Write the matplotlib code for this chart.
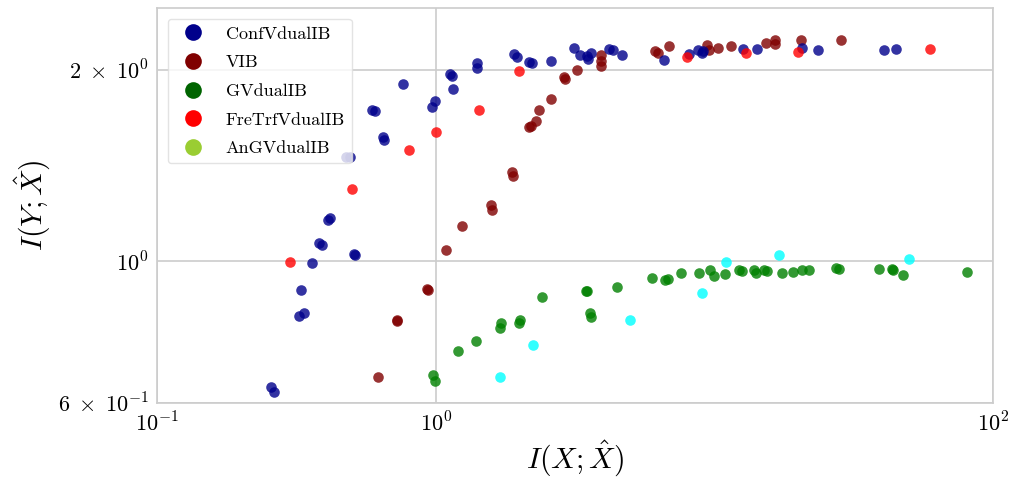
import matplotlib
matplotlib.use("Agg")
import matplotlib.pyplot as plt
from matplotlib.lines import Line2D
from matplotlib.ticker import NullFormatter, NullLocator

plt.rcParams['font.family'] = ['cmr10', 'DejaVu Serif']
plt.rcParams['mathtext.fontset'] = 'cm'
plt.rcParams['axes.formatter.use_mathtext'] = True
plt.rcParams['axes.unicode_minus'] = False

# ConfVdualIB
conf_x = [0.256, 0.263, 0.323, 0.337, 0.329, 0.360, 0.381, 0.390, 0.410, 0.418,
          0.476, 0.493, 0.509, 0.513, 0.589, 0.605, 0.649, 0.654, 0.765, 0.967,
          0.998, 1.126, 1.141, 1.157, 1.410, 1.403, 1.914, 1.963, 2.167, 2.222,
          2.586, 3.134, 3.294, 3.482, 3.599, 3.528, 4.198, 4.317, 4.674, 6.594,
          8.128, 8.755, 9.078, 9.003, 12.70, 14.18, 20.68, 23.60, 40.6, 44.7]
conf_y = [0.634, 0.623, 0.821, 0.830, 0.902, 0.995, 1.070, 1.061, 1.161, 1.168,
          1.459, 1.459, 1.026, 1.022, 1.731, 1.725, 1.569, 1.553, 1.901, 1.748,
          1.785, 1.971, 1.952, 1.866, 2.049, 2.012, 2.117, 2.094, 2.053, 2.046,
          2.064, 2.163, 2.111, 2.098, 2.125, 2.079, 2.158, 2.150, 2.106, 2.071,
          2.117, 2.150, 2.142, 2.125, 2.158, 2.158, 2.163, 2.150, 2.150, 2.158]

# VIB
vib_x = [0.619, 0.724, 0.729, 0.931, 0.942, 1.086, 1.248, 1.579, 1.592, 1.874,
         1.891, 2.162, 2.198, 2.300, 2.353, 2.593, 2.886, 2.911, 3.227, 3.918,
         3.918, 3.935, 6.146, 6.274, 6.873, 9.406, 9.603, 10.30, 11.52, 15.31,
         16.50, 16.50, 20.54, 28.58]
vib_y = [0.659, 0.809, 0.805, 0.906, 0.901, 1.044, 1.136, 1.228, 1.204, 1.381,
         1.364, 1.625, 1.634, 1.662, 1.731, 1.799, 1.947, 1.932, 2.000, 2.111,
         2.061, 2.024, 2.142, 2.127, 2.176, 2.185, 2.150, 2.166, 2.176, 2.202,
         2.223, 2.193, 2.223, 2.223]

# GVdualIB
gv_x = [0.980, 0.994, 1.205, 1.395, 1.701, 1.715, 1.995, 2.007, 2.400, 3.462,
        3.50, 3.577, 3.60, 4.473, 5.972, 6.649, 6.815, 7.570, 8.784, 9.643,
        9.97, 10.91, 12.29, 12.54, 13.91, 14.11, 15.07, 15.41, 17.53, 19.19,
        20.57, 21.90, 27.31, 28.07, 38.96, 43.27, 43.9, 47.62, 80.8]
gv_y = [0.663, 0.649, 0.723, 0.751, 0.785, 0.801, 0.801, 0.809, 0.879, 0.898,
        0.897, 0.829, 0.819, 0.913, 0.943, 0.934, 0.937, 0.958, 0.958, 0.971,
        0.948, 0.954, 0.968, 0.966, 0.969, 0.958, 0.969, 0.966, 0.958, 0.962,
        0.971, 0.969, 0.975, 0.974, 0.974, 0.974, 0.971, 0.951, 0.962]

# FreTrfVdualIB
fre_x = [0.300, 0.501, 0.802, 1.000, 1.434, 1.994, 7.95, 13.0, 20.0, 59.5]
fre_y = [0.999, 1.300, 1.498, 1.596, 1.731, 1.989, 2.094, 2.125, 2.135, 2.156]

# AnGVdualIB
an_x = [1.701, 2.228, 4.993, 9.003, 11.00, 17.01, 49.93]
an_y = [0.659, 0.740, 0.810, 0.891, 0.999, 1.022, 1.010]

labels = ['ConfVdualIB', 'VIB', 'GVdualIB', 'FreTrfVdualIB', 'AnGVdualIB']
legend_colors = ['#00008b', '#800000', '#006400', '#ff0000', '#9acd32']

xticks = [0.1, 1, 100]
xticklabels = [r'$10^{-1}$', r'$10^{0}$', r'$10^{2}$']
yticks = [0.6, 1, 2]
yticklabels = [r'$6\;\times\;10^{-1}$', r'$10^{0}$', r'$2\;\times\;10^{0}$']

fig, ax = plt.subplots(figsize=(10.11, 4.79), dpi=100)
fig.subplots_adjust(left=0.1553, right=0.9822, bottom=0.1593, top=0.9833)

ax.scatter(vib_x, vib_y, s=58, color='#800000', alpha=0.8, linewidths=0, zorder=3)
ax.scatter(conf_x, conf_y, s=58, color='#00008b', alpha=0.8, linewidths=0, zorder=3)
ax.scatter(gv_x, gv_y, s=58, color='#008000', alpha=0.8, linewidths=0, zorder=3)
ax.scatter(fre_x, fre_y, s=58, color='#ff0000', alpha=0.8, linewidths=0, zorder=3)
ax.scatter(an_x, an_y, s=58, color='#00ffff', alpha=0.8, linewidths=0, zorder=3)

ax.set_xscale('log')
ax.set_yscale('log')
ax.set_xlim(0.1, 100)
ax.set_ylim(0.6, 2.5)
ax.set_xticks(xticks)
ax.set_xticklabels(xticklabels)
ax.set_yticks(yticks)
ax.set_yticklabels(yticklabels)
ax.xaxis.set_minor_locator(NullLocator())
ax.yaxis.set_minor_locator(NullLocator())
ax.xaxis.set_minor_formatter(NullFormatter())
ax.yaxis.set_minor_formatter(NullFormatter())
ax.tick_params(length=0, labelsize=16, pad=6)

ax.grid(True, color='#cccccc', linewidth=1.2)
ax.set_axisbelow(True)
for sp in ax.spines.values():
    sp.set_color('#cccccc')
    sp.set_linewidth(1.2)

ax.set_xlabel(r'$I(X;\hat{X})$', fontsize=21.5, labelpad=2)
ax.set_ylabel(r'$I(Y;\hat{X})$', fontsize=21.5, labelpad=4)

handles = [Line2D([], [], marker='o', linestyle='', markersize=12,
                  color=c, markeredgewidth=0) for c in legend_colors]
leg = ax.legend(handles, labels, loc='upper left', fontsize=13,
                frameon=True, framealpha=0.8, edgecolor='#dddddd',
                labelspacing=0.72, handletextpad=0.8, borderaxespad=0.6)
leg.set_zorder(5)

fig.savefig('out.png', dpi=100)
